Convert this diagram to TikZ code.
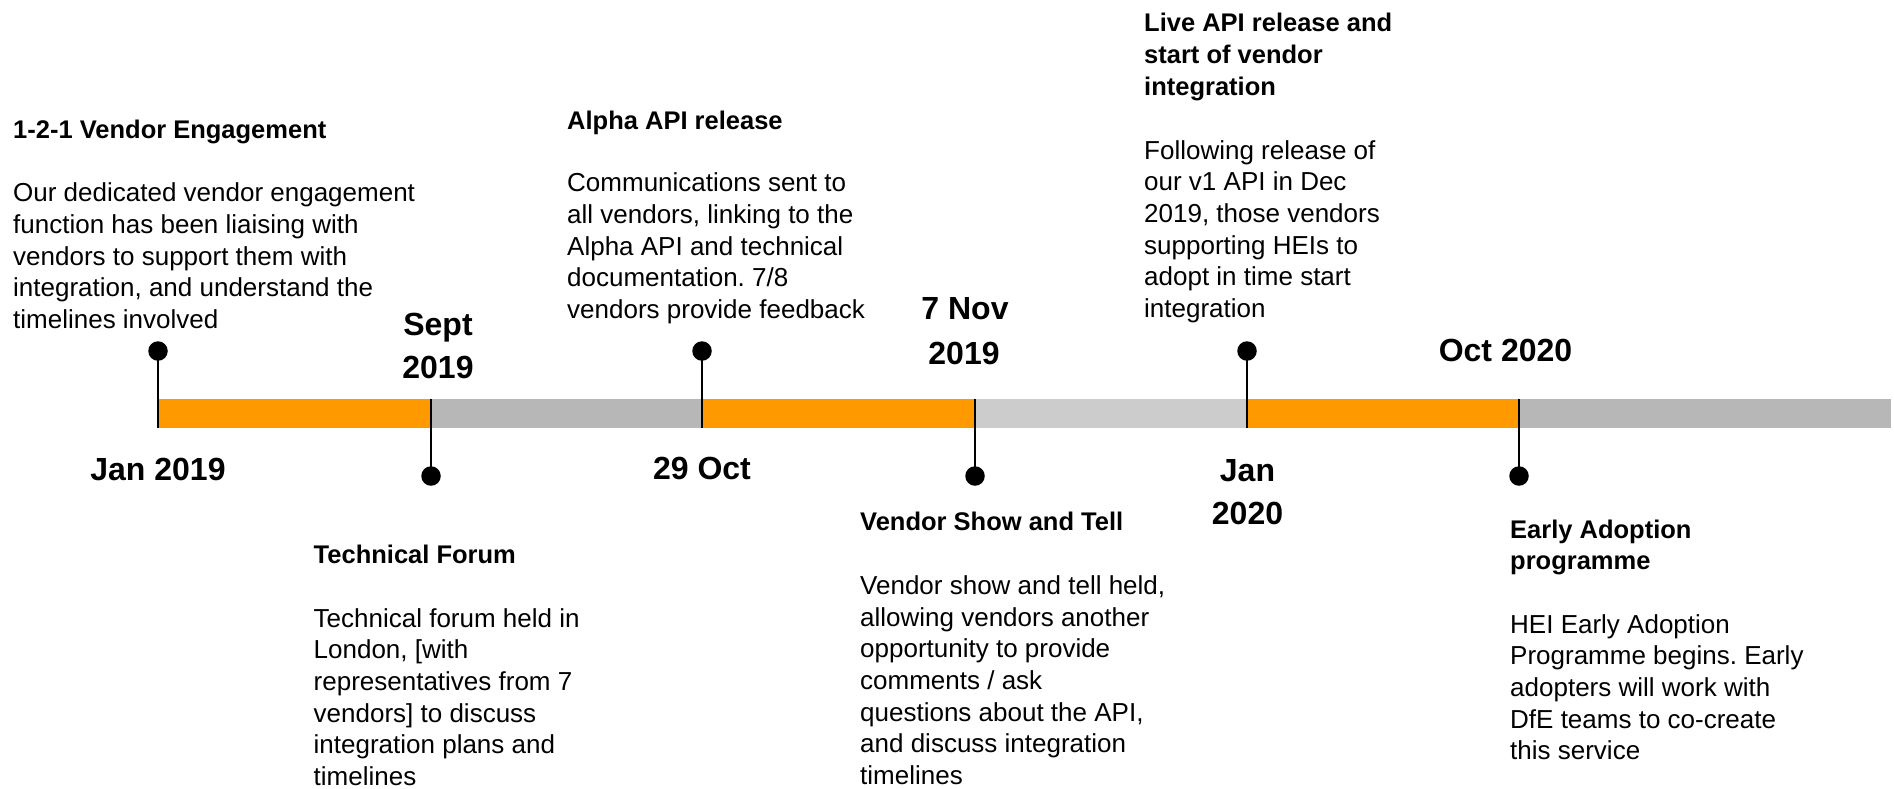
\documentclass[tikz,border=0pt]{standalone}
\usepackage{fontspec}
\setmainfont{Liberation Sans}
\frenchspacing
\definecolor{barorange}{HTML}{FF9900}
\definecolor{bargrey}{HTML}{B7B7B7}
\definecolor{barlight}{HTML}{CCCCCC}
\tikzset{
  bodytxt/.style={font=\frenchspacing\fontsize{26}{31.67}\selectfont, anchor=base west, inner sep=0pt},
  headtxt/.style={font=\bfseries\fontsize{25.5}{31.67}\selectfont, anchor=base west, inner sep=0pt},
  datetxt/.style={font=\bfseries\fontsize{32}{40}\selectfont, anchor=base, inner sep=0pt},
  tickdot/.style={circle, fill=black, inner sep=0pt, minimum size=19.5pt},
  tickline/.style={line width=2.6pt, black},
}
\newcommand{\tlblock}[5]{%
  \foreach \t [count=\i from 0] in {#4}
    \node[#5] (#1-\i) at (#2, {#3+31.67*\i}) {\t};
}
\begin{document}
\begin{tikzpicture}[x=1pt,y=-1pt]
\useasboundingbox (0,0) rectangle (1894,788);
\fill[white] (0,0) rectangle (1894,788);

% bar segments
\fill[barorange] (158,399) rectangle (431,428);
\fill[bargrey]   (431,399) rectangle (702,428);
\fill[barorange] (702,399) rectangle (975,428);
\fill[barlight]  (975,399) rectangle (1247,428);
\fill[barorange] (1247,399) rectangle (1519,428);
\fill[bargrey]   (1519,399) rectangle (1891,428);

% tick anchors on the bar
\coordinate (b1) at (158,428);
\coordinate (b2) at (431,399);
\coordinate (b3) at (702,428);
\coordinate (b4) at (975,399);
\coordinate (b5) at (1247,428);
\coordinate (b6) at (1519,399);

% dots
\node[tickdot] (d1) at (158,351) {};
\node[tickdot] (d2) at (431,476) {};
\node[tickdot] (d3) at (702,351) {};
\node[tickdot] (d4) at (975,476) {};
\node[tickdot] (d5) at (1247,351) {};
\node[tickdot] (d6) at (1519,476) {};

\draw[tickline] (d1.center) -- (b1);
\draw[tickline] (d2.center) -- (b2);
\draw[tickline] (d3.center) -- (b3);
\draw[tickline] (d4.center) -- (b4);
\draw[tickline] (d5.center) -- (b5);
\draw[tickline] (d6.center) -- (b6);

% date labels
\node[datetxt] (jan19) at (158,480) {Jan 2019};
\node[datetxt] (sept) at (438,335) {Sept};
\node[datetxt] (sept19) at (438,378) {2019};
\node[datetxt] (oct29) at (702,479) {29 Oct};
\node[datetxt] (nov7) at (965,319) {7 Nov};
\node[datetxt] (nov19) at (964,364) {2019};
\node[datetxt] (jan) at (1247.5,481) {Jan};
\node[datetxt] (jan20) at (1247.5,524) {2020};
\node[datetxt] (oct20) at (1505.5,361) {Oct 2020};

% event 1
\tlblock{h1}{13}{138.3}{{1-2-1 Vendor Engagement}}{headtxt}
\tlblock{t1}{13}{201.7}{{Our dedicated vendor engagement},{function has been liaising with},{vendors to support them with},{integration, and understand the},{timelines involved}}{bodytxt}

% event 2
\tlblock{h2}{567}{129}{{Alpha API release}}{headtxt}
\tlblock{t2}{567}{191.7}{{Communications sent to},{all vendors, linking to the},{Alpha API and technical},{documentation. 7/8},{vendors provide feedback}}{bodytxt}

% event 3
\tlblock{h3}{1144}{31.7}{{Live API release and},{start of vendor},{integration}}{headtxt}
\tlblock{t3}{1144}{159.3}{{Following release of},{our v1 API in Dec},{2019, those vendors},{supporting HEIs to},{adopt in time start},{integration}}{bodytxt}

% event 4
\tlblock{h4}{313.5}{563.3}{{Technical Forum}}{headtxt}
\tlblock{t4}{313.5}{627}{{Technical forum held in},{London, [with},{representatives from 7},{vendors] to discuss},{integration plans and},{timelines}}{bodytxt}

% event 5
\tlblock{h5}{860}{530.5}{{Vendor Show and Tell}}{headtxt}
\tlblock{t5}{860}{594.5}{{Vendor show and tell held,},{allowing vendors another},{opportunity to provide},{comments / ask},{questions about the API,},{and discuss integration},{timelines}}{bodytxt}

% event 6
\tlblock{h6}{1510}{538.3}{{Early Adoption},{programme}}{headtxt}
\tlblock{t6}{1510}{633.3}{{HEI Early Adoption},{Programme begins. Early},{adopters will work with},{DfE teams to co-create},{this service}}{bodytxt}
\end{tikzpicture}
\end{document}
